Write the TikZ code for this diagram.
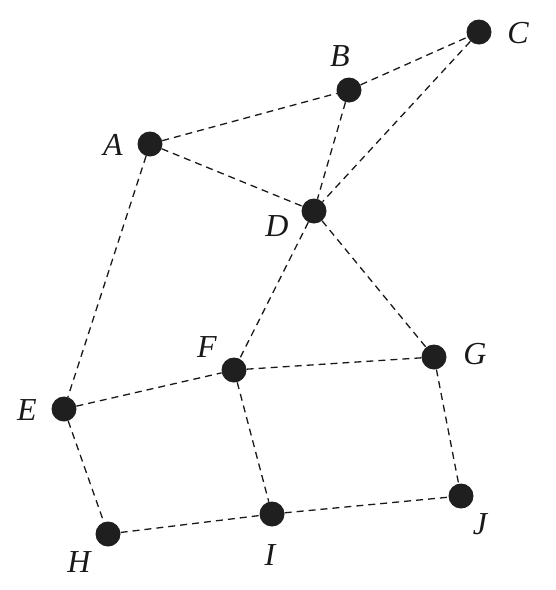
\documentclass[tikz,border=0pt]{standalone}
\usepackage{fontspec}
\setmainfont{Liberation Serif}
\begin{document}
\begin{tikzpicture}[x=1pt,y=-1pt,
  vert/.style={circle,fill=black!88,draw=none,minimum size=25pt,inner sep=0pt},
  lab/.style={inner sep=0pt,font=\fontsize{32}{32}\selectfont\itshape,text=black!90},
  edge/.style={line width=1.3pt,dash pattern=on 7pt off 5pt,black!90}]
\useasboundingbox (0,0) rectangle (556,590);
\node[vert] (A) at (150,144) {};
\node[vert] (B) at (349,90) {};
\node[vert] (C) at (479,32) {};
\node[vert] (D) at (314,211) {};
\node[vert] (E) at (64,409) {};
\node[vert] (F) at (234,370) {};
\node[vert] (G) at (434,357) {};
\node[vert] (H) at (108,534) {};
\node[vert] (I) at (272,514) {};
\node[vert] (J) at (461,496) {};
\node[lab] (lA) at (113,145) {A};
\node[lab] (lB) at (340,56) {B};
\node[lab] (lC) at (518,33) {C};
\node[lab] (lD) at (277,226) {D};
\node[lab] (lE) at (27,410) {E};
\node[lab] (lF) at (207,347) {F};
\node[lab] (lG) at (475,354) {G};
\node[lab] (lH) at (79,562) {H};
\node[lab] (lI) at (270,555) {I};
\node[lab] (lJ) at (480,524) {J};
\draw[edge] (A) -- (B);
\draw[edge] (B) -- (C);
\draw[edge] (A) -- (D);
\draw[edge] (B) -- (D);
\draw[edge] (C) -- (D);
\draw[edge] (A) -- (E);
\draw[edge] (D) -- (F);
\draw[edge] (D) -- (G);
\draw[edge] (E) -- (F);
\draw[edge] (F) -- (G);
\draw[edge] (E) -- (H);
\draw[edge] (F) -- (I);
\draw[edge] (G) -- (J);
\draw[edge] (H) -- (I);
\draw[edge] (I) -- (J);
\end{tikzpicture}
\end{document}
